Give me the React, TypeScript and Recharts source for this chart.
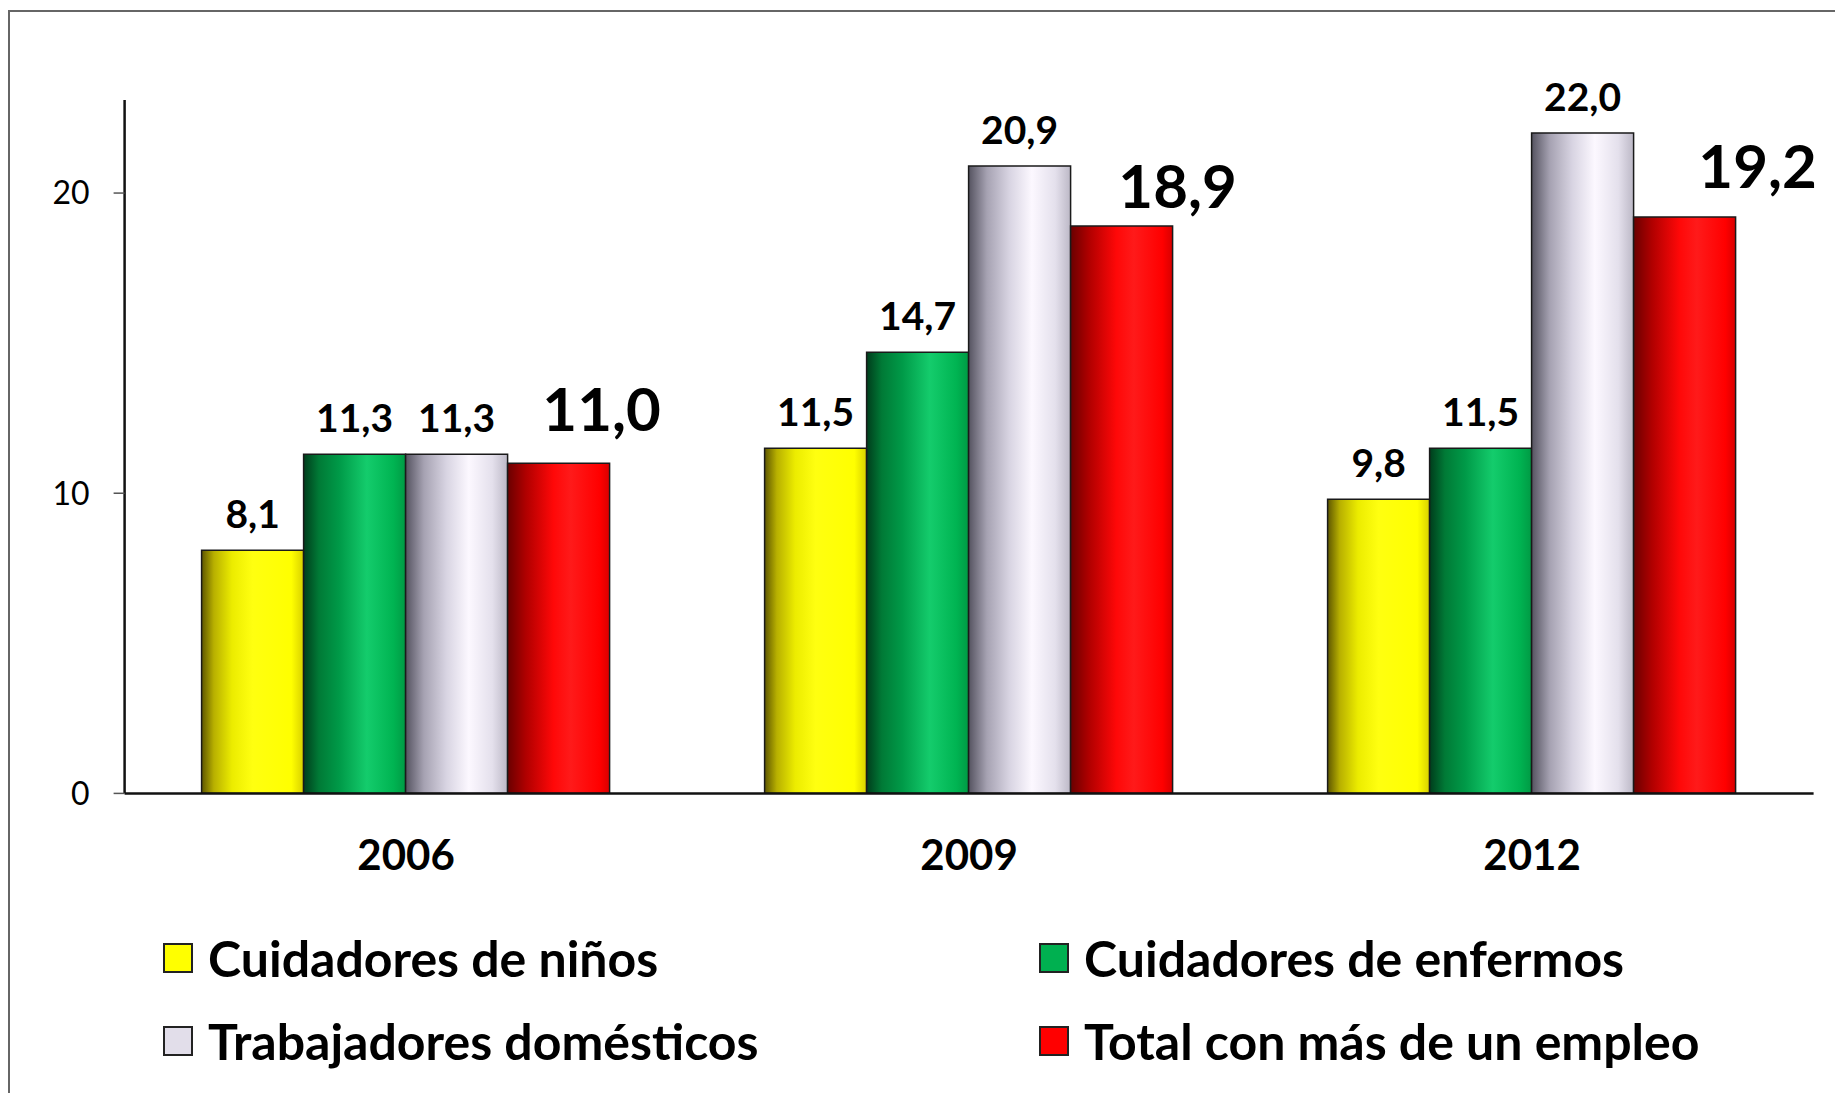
import React from 'react';
import { BarChart, Bar, XAxis, YAxis, LabelList, Legend } from 'recharts';

const CATEGORIES = ['2006', '2009', '2012'];
const CUIDADORES_NINOS = [8.1, 11.5, 9.8];
const CUIDADORES_ENFERMOS = [11.3, 14.7, 11.5];
const TRABAJADORES_DOMESTICOS = [11.3, 20.9, 22.0];
const TOTAL_MAS_DE_UN_EMPLEO = [11.0, 18.9, 19.2];
const SERIES_NAMES = [
  'Cuidadores de niños',
  'Cuidadores de enfermos',
  'Trabajadores domésticos',
  'Total con más de un empleo',
];
const Y_TICKS = [0, 10, 20];
const Y_MAX = 23.1;

const data = CATEGORIES.map((year, i) => ({
  year,
  ninos: CUIDADORES_NINOS[i],
  enfermos: CUIDADORES_ENFERMOS[i],
  domesticos: TRABAJADORES_DOMESTICOS[i],
  total: TOTAL_MAS_DE_UN_EMPLEO[i],
}));

const KEYS = ['ninos', 'enfermos', 'domesticos', 'total'];
const GRADIENT_IDS = ['gYellow', 'gGreen', 'gGray', 'gRed'];
const LEGEND_COLORS = ['#ffff00', '#00b050', '#e2deea', '#ff0000'];

// label placement styling for the large "total" labels (manually placed in original)
const TOTAL_LABEL_DX = [43, 56, 73];
const TOTAL_LABEL_GAP = [32, 18, 29];

const FONT = 'Lato, "Open Sans", sans-serif';

const fmt = (v: number) => v.toFixed(1).replace('.', ',');

const smallLabel = (props: any) => {
  const { x, y, width, value } = props;
  return (
    <text x={x + width / 2} y={y - 22} textAnchor="middle" fontFamily={FONT} fontWeight={700} fontSize={39} fill="#000">
      {fmt(value)}
    </text>
  );
};

const bigLabel = (props: any) => {
  const { x, y, width, value, index } = props;
  return (
    <text
      x={x + width / 2 + TOTAL_LABEL_DX[index]}
      y={y - TOTAL_LABEL_GAP[index]}
      textAnchor="middle"
      fontFamily={FONT}
      fontWeight={700}
      fontSize={60}
      fill="#000"
    >
      {fmt(value)}
    </text>
  );
};

const CategoryTick = (props: any) => {
  const { x, y, payload } = props;
  return (
    <text x={x} y={y + 77} textAnchor="middle" fontFamily={FONT} fontWeight={700} fontSize={42} fill="#000">
      {payload.value}
    </text>
  );
};

const LegendContent = () => {
  const cols = [155, 1031];
  const rows = [50, 133];
  return (
    <div style={{ position: 'relative', width: 1835, height: 180 }}>
      {SERIES_NAMES.map((name, i) => (
        <div
          key={name}
          style={{
            position: 'absolute',
            left: cols[i % 2],
            top: rows[Math.floor(i / 2)] - 25,
            height: 50,
            display: 'flex',
            alignItems: 'center',
            whiteSpace: 'nowrap',
          }}
        >
          <span
            style={{
              display: 'inline-block',
              width: 30,
              height: 30,
              boxSizing: 'border-box',
              border: '2px solid #222',
              background: LEGEND_COLORS[i],
              marginRight: 15,
            }}
          />
          <span style={{ fontFamily: FONT, fontWeight: 700, fontSize: 50, color: '#000', lineHeight: 1 }}>{name}</span>
        </div>
      ))}
    </div>
  );
};

export default function App() {
  return (
    <div style={{ position: 'relative', width: 1835, height: 1085 }}>
      <div
        style={{
          position: 'absolute',
          left: 0,
          top: 2,
          width: 1835,
          height: 1083,
          boxSizing: 'border-box',
          borderTop: '2px solid #666',
          borderLeft: '2px solid #666',
        }}
      />
      <div style={{ position: 'absolute', left: 0, top: 0 }}>
        <BarChart
          width={1835}
          height={1085}
          data={data}
          margin={{ top: 92, right: 29.4, bottom: 117.6, left: 0 }}
          barCategoryGap={77}
          barGap={0}
        >
          <defs>
            <linearGradient id="gYellow" x1="0" y1="0" x2="1" y2="0">
              <stop offset="0%" stopColor="#5e5600" />
              <stop offset="12%" stopColor="#b8b000" />
              <stop offset="30%" stopColor="#ecec00" />
              <stop offset="50%" stopColor="#ffff10" />
              <stop offset="88%" stopColor="#ffff00" />
              <stop offset="100%" stopColor="#d8d000" />
            </linearGradient>
            <linearGradient id="gGreen" x1="0" y1="0" x2="1" y2="0">
              <stop offset="0%" stopColor="#003d1c" />
              <stop offset="15%" stopColor="#007a36" />
              <stop offset="35%" stopColor="#009a48" />
              <stop offset="62%" stopColor="#14cc6c" />
              <stop offset="88%" stopColor="#00b452" />
              <stop offset="100%" stopColor="#009a44" />
            </linearGradient>
            <linearGradient id="gGray" x1="0" y1="0" x2="1" y2="0">
              <stop offset="0%" stopColor="#555360" />
              <stop offset="18%" stopColor="#a6a2b2" />
              <stop offset="40%" stopColor="#d8d4e2" />
              <stop offset="62%" stopColor="#fcf8ff" />
              <stop offset="85%" stopColor="#e4e0ec" />
              <stop offset="100%" stopColor="#bcb8c6" />
            </linearGradient>
            <linearGradient id="gRed" x1="0" y1="0" x2="1" y2="0">
              <stop offset="0%" stopColor="#6a0000" />
              <stop offset="18%" stopColor="#b00000" />
              <stop offset="45%" stopColor="#ff0808" />
              <stop offset="62%" stopColor="#ff1a1a" />
              <stop offset="90%" stopColor="#ff0000" />
              <stop offset="100%" stopColor="#d80000" />
            </linearGradient>
          </defs>
          <XAxis
            xAxisId="cat"
            dataKey="year"
            height={1}
            tickLine={false}
            tickSize={0}
            tickMargin={0}
            interval={0}
            axisLine={{ stroke: '#111', strokeWidth: 2.5 }}
            tick={<CategoryTick />}
          />
          <XAxis
            xAxisId="grid"
            type="number"
            domain={[0, 3]}
            ticks={[0, 1, 2, 3]}
            height={1}
            axisLine={false}
            tick={false}
            tickSize={13}
            tickLine={{ stroke: '#555', strokeWidth: 1.5 }}
            allowDataOverflow
          />
          <YAxis
            width={116.6}
            domain={[0, Y_MAX]}
            ticks={Y_TICKS}
            interval={0}
            tickSize={11}
            tickMargin={24}
            axisLine={{ stroke: '#111', strokeWidth: 2.5 }}
            tickLine={{ stroke: '#555', strokeWidth: 1.5 }}
            tick={{ fontFamily: FONT, fontSize: 32, fill: '#000' }}
            allowDataOverflow
          />
          {KEYS.map((k, i) => (
            <Bar
              key={k}
              xAxisId="cat"
              dataKey={k}
              name={SERIES_NAMES[i]}
              fill={`url(#${GRADIENT_IDS[i]})`}
              stroke="#1a1a1a"
              strokeWidth={1.5}
              isAnimationActive={false}
            >
              <LabelList dataKey={k} content={i === 3 ? bigLabel : smallLabel} />
            </Bar>
          ))}
          <Legend
            content={<LegendContent />}
            wrapperStyle={{ position: 'absolute', left: 0, top: 900, width: 1835, height: 180 }}
          />
        </BarChart>
      </div>
    </div>
  );
}
